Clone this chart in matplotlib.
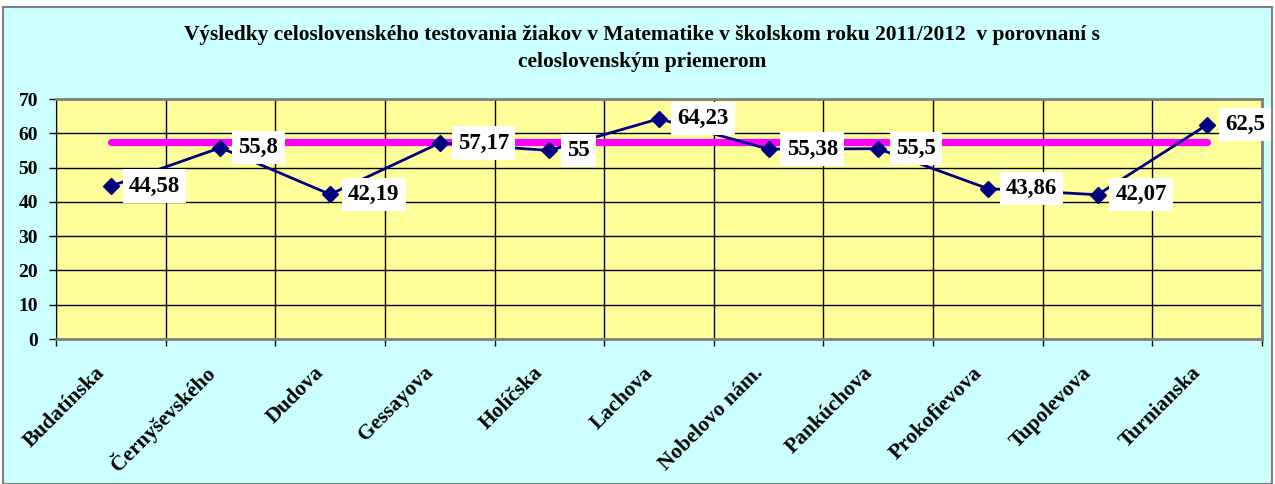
import matplotlib
matplotlib.use("Agg")
import matplotlib.pyplot as plt
from matplotlib.patches import Rectangle
from matplotlib.transforms import ScaledTranslation

categories = ["Budatínska", "Černyševského", "Dudova", "Gessayova", "Holíčska", "Lachova",
              "Nobelovo nám.", "Pankúchova", "Prokofievova", "Tupolevova", "Turnianska"]
values = [44.58, 55.8, 42.19, 57.17, 55, 64.23, 55.38, 55.5, 43.86, 42.07, 62.5]
labels = ["44,58", "55,8", "42,19", "57,17", "55", "64,23", "55,38", "55,5", "43,86", "42,07", "62,5"]
national_avg = [57.5] * len(categories)
yticks = [0, 10, 20, 30, 40, 50, 60, 70]
title = ("Výsledky celoslovenského testovania žiakov v Matematike v školskom roku 2011/2012  v porovnaní s\n"
         "celoslovenským priemerom")

W, H = 1275, 484
fig = plt.figure(figsize=(W / 100, H / 100), dpi=100)
fig.patch.set_facecolor("white")
serif = ["Liberation Serif", "DejaVu Serif"]

# chart area background with border
fig.patches.append(Rectangle((3 / W, 0), 1269 / W, (H - 7) / H, transform=fig.transFigure,
                             facecolor="#CCFFFF", edgecolor="#808080", linewidth=1.5, zorder=-10))

ax = fig.add_axes([56 / W, (H - 339) / H, (1262 - 56) / W, (339 - 99) / H])
ax.set_zorder(1)
ax.set_facecolor("#FFFF99")
n = len(categories)
x = [i + 0.5 for i in range(n)]

ax.set_xlim(0, n)
ax.set_ylim(0, 70)
ax.set_yticks(yticks)
ax.set_yticklabels([str(t) for t in yticks], fontfamily=serif, fontweight="bold", fontsize=14)
ax.set_xticks(range(n + 1))
ax.set_xticklabels([])
ax.tick_params(axis="both", which="major", length=5, direction="out", color="black", width=1)
ax.tick_params(axis="y", pad=8)
ax.grid(True, which="major", color="black", linewidth=1)
ax.set_axisbelow(True)
for s in ["top", "right"]:
    ax.spines[s].set_color("#808080")
    ax.spines[s].set_linewidth(2)
ax.spines["left"].set_color("black")
ax.spines["bottom"].set_color("#808080")
ax.spines["bottom"].set_linewidth(2)

# category labels, rotated, ending just left of the category centre
lab_tr = ax.get_xaxis_transform() + ScaledTranslation(-9 / 100, -31 / 100, fig.dpi_scale_trans)
for xi, cat in zip(x, categories):
    ax.text(xi, 0, cat, transform=lab_tr, rotation=45, rotation_mode="anchor",
            ha="right", va="center", fontfamily=serif, fontweight="bold", fontsize=15.5,
            clip_on=False)

ax.plot(x, national_avg, color="#FF00FF", linewidth=5.2, solid_capstyle="round", zorder=3)
ax.plot(x, values, color="#000080", linewidth=2, marker="D", markersize=8, zorder=4)

for xi, v, lab in zip(x, values, labels):
    ax.annotate(lab, (xi, v), xytext=(18, 0), textcoords="offset pixels", ha="left", va="center",
                fontfamily=serif, fontsize=16.5, fontweight="bold",
                bbox=dict(boxstyle="square,pad=0.27", facecolor="white", edgecolor="none"), zorder=5)

fig.text(642 / W, 1 - 48.5 / H, title, ha="center", va="center", fontfamily=serif,
         fontweight="bold", fontsize=15.4, linespacing=1.45)

fig.savefig("out.png", dpi=100, facecolor=fig.get_facecolor())
